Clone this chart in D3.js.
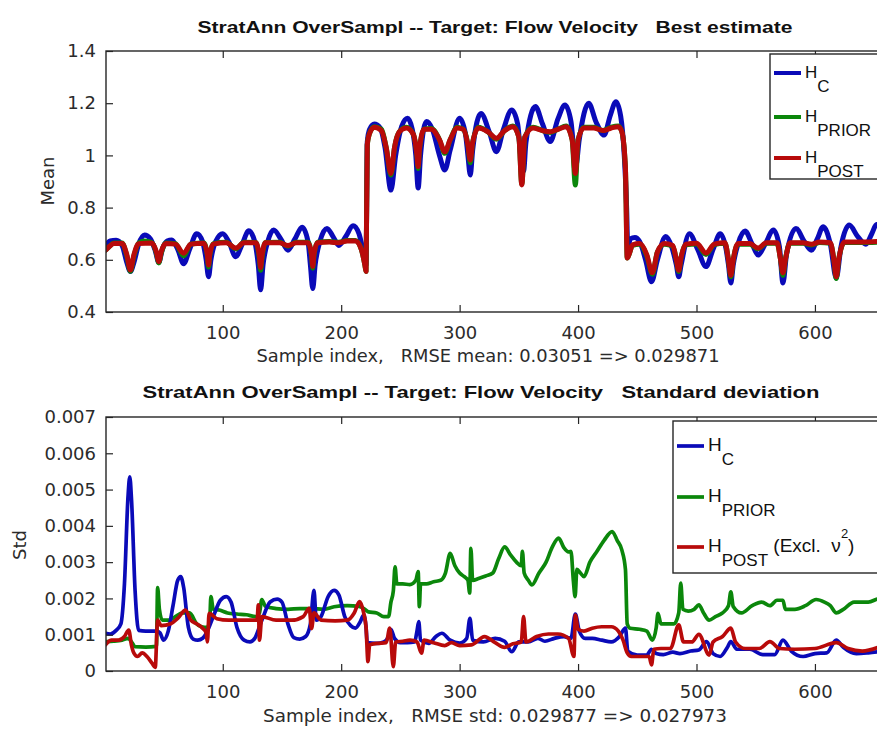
<!DOCTYPE html>
<html>
<head>
<meta charset="utf-8">
<script src="https://cdn.jsdelivr.net/npm/d3@7"></script>
<style>
  html, body { margin: 0; padding: 0; background: #fff; }
  svg { display: block; }
  text { white-space: pre; }
</style>
</head>
<body>
<svg id="chart" width="877" height="729"></svg>
<script>
// ---- tick values ----
const sampleTicks = [100, 200, 300, 400, 500, 600];
const meanTicks = [0.4, 0.6, 0.8, 1, 1.2, 1.4];
const stdTicks = [0, 0.001, 0.002, 0.003, 0.004, 0.005, 0.006, 0.007];

// ---- series names ----
const seriesNames = ["C", "PRIOR", "POST"];
const seriesColors = ["#0a0ab8", "#0b870b", "#b80a0a"];

// ---- mean (best estimate), [sample index, value] ----
const meanHC = [
  [1,0.655],[5,0.672],[10,0.675],[15,0.655],[19,0.59],[22,0.555],[25,0.59],[29,0.66],[34,0.695],[39,0.68],
  [43,0.635],[46,0.59],[49,0.64],[53,0.672],[57,0.676],[62,0.64],[67,0.585],[72,0.64],[78,0.70],[83,0.67],
  [86,0.60],[88,0.535],[90,0.60],[94,0.67],[100,0.70],[105,0.67],[111,0.612],[116,0.655],[122,0.711],[127,0.67],
  [130,0.58],[132,0.485],[134,0.58],[138,0.67],[143,0.714],[149,0.68],[155,0.637],[161,0.68],[167,0.725],[172,0.67],
  [174,0.58],[176,0.49],[178,0.58],[182,0.67],[188,0.72],[193,0.69],[198,0.655],[204,0.69],[210,0.73],[215,0.70],
  [219,0.62],[221,0.58],[222,1.05],[224,1.10],[228,1.12],[233,1.105],[237,1.03],[242,0.867],[246,1.0],[251,1.11],
  [256,1.142],[260,1.10],[263,1.0],[265,0.875],[267,1.0],[272,1.13],[277,1.10],[283,1.00],[287.5,0.944],[292,1.02],
  [300,1.142],[305,1.08],[307,1.0],[309,0.925],[311,1.02],[318,1.161],[325,1.09],[331,1.014],[337,1.10],[344,1.174],
  [349,1.12],[352,0.98],[354,0.94],[356,1.05],[364,1.187],[370,1.12],[376.5,1.053],[383,1.14],[389,1.193],[394,1.13],
  [397,0.99],[398,0.957],[401,1.06],[409,1.20],[415,1.13],[422,1.078],[427,1.15],[432,1.206],[436,1.15],[439,1.00],
  [441,0.80],[442,0.64],[444,0.68],[448,0.685],[452,0.67],[457,0.60],[462,0.516],[467,0.60],[474,0.689],[479,0.65],
  [483,0.58],[485,0.535],[487,0.58],[494,0.70],[501,0.64],[508,0.574],[514,0.64],[520,0.70],[525,0.64],[527,0.58],
  [529,0.511],[531,0.58],[535,0.66],[541,0.71],[547,0.66],[552,0.618],[558,0.66],[565,0.714],[570,0.65],[573,0.511],
  [576,0.62],[584,0.72],[591,0.67],[597,0.637],[602,0.68],[607,0.727],[613,0.66],[618,0.53],[622,0.65],[629,0.733],
  [636,0.69],[643,0.66],[648,0.70],[652,0.735],[658,0.70]
];

const meanHPrior = [
  [1,0.637],[4,0.65],[8,0.664],[15,0.664],[19,0.615],[22,0.556],[25,0.615],[29,0.664],[34,0.672],[40,0.666],
  [44,0.625],[46,0.588],[48,0.625],[52,0.664],[60,0.662],[67,0.615],[73,0.66],[84,0.664],[87,0.615],[88,0.572],
  [89,0.615],[92,0.662],[103,0.667],[111,0.642],[118,0.667],[128,0.666],[131,0.60],[132,0.56],[133,0.60],[136,0.666],
  [148,0.667],[155,0.652],[162,0.667],[172,0.667],[175,0.615],[176,0.568],[177,0.615],[180,0.667],[190,0.670],[198,0.667],
  [205,0.674],[212,0.674],[217,0.64],[220,0.58],[221,0.555],[222,1.04],[224,1.085],[228,1.11],[234,1.10],[238,1.03],
  [242,0.925],[245,1.03],[249,1.09],[255,1.108],[261,1.08],[264,1.0],[265,0.95],[266,1.02],[270,1.10],[276,1.103],
  [283,1.06],[287.5,1.008],[292,1.06],[298,1.108],[303,1.10],[307,1.04],[309,0.972],[311,1.05],[316,1.108],[324,1.09],
  [331,1.062],[338,1.095],[345,1.113],[350,1.07],[352.5,0.89],[355,1.07],[362,1.108],[370,1.095],[376.5,1.088],[383,1.10],
  [390,1.113],[395,1.06],[397.7,0.887],[400,1.06],[405,1.108],[413,1.108],[421,1.095],[428,1.108],[434,1.113],[437,1.09],
  [440,0.95],[441.5,0.607],[443,0.62],[446,0.655],[452,0.66],[458,0.615],[462.7,0.545],[467,0.63],[473,0.66],[480,0.652],
  [483,0.60],[485,0.555],[487,0.61],[491,0.658],[500,0.661],[508,0.62],[515,0.658],[524,0.663],[527,0.60],[529,0.535],
  [531,0.60],[535,0.66],[545,0.66],[552,0.642],[559,0.663],[568,0.663],[571,0.60],[573,0.54],[575,0.60],[579,0.663],
  [590,0.663],[597,0.657],[604,0.666],[613,0.663],[616,0.60],[618,0.528],[620,0.60],[625,0.666],[635,0.666],[645,0.666],
  [658,0.670]
];

const meanHPost = [
  [1,0.637],[4,0.65],[8,0.662],[15,0.662],[19,0.62],[22,0.561],[25,0.62],[29,0.662],[40,0.664],[44,0.63],
  [46,0.593],[48,0.63],[52,0.662],[60,0.66],[67,0.625],[73,0.66],[84,0.663],[87,0.62],[88,0.58],[89,0.62],
  [92,0.66],[103,0.665],[111,0.645],[118,0.665],[128,0.665],[131,0.61],[132,0.57],[133,0.61],[136,0.665],[148,0.665],
  [155,0.655],[162,0.665],[172,0.665],[175,0.62],[176,0.575],[177,0.62],[180,0.665],[190,0.668],[198,0.665],[205,0.672],
  [212,0.672],[217,0.64],[220,0.58],[221,0.555],[222,1.04],[224,1.085],[228,1.108],[234,1.095],[238,1.03],[242,0.931],
  [245,1.03],[249,1.09],[255,1.105],[261,1.08],[264,1.0],[265,0.957],[266,1.02],[270,1.10],[276,1.10],[283,1.06],
  [287.5,1.014],[292,1.06],[298,1.105],[303,1.10],[307,1.04],[309,0.982],[311,1.05],[316,1.105],[324,1.09],[331,1.066],
  [338,1.095],[345,1.11],[350,1.07],[352.5,0.887],[355,1.07],[362,1.105],[370,1.095],[376.5,1.091],[383,1.10],[390,1.11],
  [395,1.06],[397.7,0.931],[400,1.06],[405,1.105],[413,1.105],[421,1.095],[428,1.105],[434,1.11],[437,1.09],[440,0.95],
  [441.5,0.607],[443,0.62],[446,0.657],[452,0.662],[458,0.62],[462.7,0.55],[467,0.63],[473,0.662],[480,0.655],[483,0.60],
  [485,0.56],[487,0.61],[491,0.66],[500,0.663],[508,0.626],[515,0.66],[524,0.665],[527,0.60],[529,0.54],[531,0.60],
  [535,0.662],[545,0.662],[552,0.645],[559,0.665],[568,0.665],[571,0.60],[573,0.55],[575,0.60],[579,0.665],[590,0.665],
  [597,0.66],[604,0.668],[613,0.665],[616,0.60],[618,0.535],[620,0.60],[625,0.668],[635,0.668],[645,0.668],[658,0.672]
];

// ---- standard deviation, [sample index, value] ----
const stdHC = [
  [1,0.00104],[5,0.00102],[10,0.00112],[14,0.0013],[17,0.0024],[20,0.0048],[21.5,0.00535],[23,0.0047],[26,0.0022],[29,0.00112],
  [35,0.0011],[44,0.0011],[47,0.00105],[50,0.00085],[54,0.0011],[58,0.0018],[62,0.0025],[64.5,0.0026],[67,0.0023],[71,0.0012],
  [75,0.00088],[79,0.00085],[83,0.0009],[87,0.0011],[92,0.0015],[98,0.00195],[103,0.00205],[107,0.0019],[112,0.0012],[118,0.00085],
  [123,0.0008],[127,0.0009],[133,0.0014],[140,0.0019],[146,0.00198],[150,0.0019],[155,0.0013],[160,0.00092],[165,0.00088],[170,0.00095],
  [174,0.0013],[177,0.00222],[179,0.0014],[183,0.0015],[189,0.00205],[194,0.00222],[198,0.0021],[203,0.0015],[208,0.00125],[212,0.00118],
  [216,0.00135],[219,0.00154],[221,0.0012],[222,0.00078],[230,0.00076],[236,0.0008],[240,0.00095],[242,0.00115],[245,0.0009],[250,0.00078],
  [256,0.00078],[262,0.0008],[264,0.0011],[265.5,0.00136],[267,0.00085],[274,0.00076],[280,0.00095],[285,0.00104],[292,0.00085],[300,0.00077],
  [306,0.0009],[308.7,0.00145],[311,0.00085],[320,0.0008],[330,0.0009],[338,0.00082],[344,0.00053],[350,0.0008],[358,0.0008],[366,0.0009],
  [372,0.00082],[380,0.0009],[388,0.00095],[394,0.0009],[397.7,0.00157],[401,0.0011],[406,0.0009],[412,0.0009],[420,0.00085],[428,0.0008],
  [435,0.00095],[440,0.00118],[442,0.00055],[450,0.00044],[458,0.00044],[462,0.0006],[466,0.00048],[472,0.00045],[480,0.00052],[486,0.00048],
  [495,0.00055],[502,0.00058],[508.5,0.00081],[514,0.00048],[520,0.0004],[526,0.00065],[529,0.00081],[534,0.0006],[545,0.0006],[556,0.00045],
  [566,0.00045],[573,0.00085],[580,0.00055],[590,0.0004],[600,0.00048],[610,0.0005],[618,0.00085],[624,0.00065],[635,0.00048],[645,0.0005],
  [658,0.00055]
];

const stdHPrior = [
  [1,0.00081],[8,0.00082],[15,0.00085],[20,0.0009],[23,0.0008],[26,0.00067],[35,0.00066],[44,0.00068],[45,0.0023],[46.5,0.0017],
  [49,0.0014],[55,0.0014],[60,0.0015],[66,0.0016],[72,0.0016],[78,0.0013],[82,0.00122],[87,0.0012],[89,0.0014],[90,0.00205],
  [92,0.0017],[97,0.00168],[104,0.0016],[112,0.00157],[120,0.00155],[128,0.0015],[131,0.0016],[133,0.00197],[136,0.00178],[145,0.00172],
  [155,0.0017],[165,0.00172],[175,0.00172],[185,0.0017],[194,0.00177],[205,0.0018],[215,0.00178],[220,0.0017],[223,0.00163],[230,0.0016],
  [236,0.0015],[240,0.0015],[242,0.0019],[244,0.0022],[245.5,0.00287],[247,0.0024],[252,0.0024],[258,0.00238],[263,0.0025],[265,0.00274],
  [266,0.00177],[267,0.0024],[272,0.0024],[278,0.00246],[284,0.0025],[288,0.0027],[292,0.00324],[296,0.0029],[300,0.0027],[304,0.0026],
  [307,0.0025],[308.5,0.00215],[309.5,0.00338],[311,0.0025],[316,0.00255],[322,0.00262],[328,0.0027],[333,0.0031],[338,0.00342],[343,0.0032],
  [348,0.003],[352,0.0029],[353,0.0033],[354.5,0.0027],[358,0.0025],[361,0.00237],[367,0.0027],[373,0.003],[378,0.0034],[383.6,0.00366],
  [388,0.0034],[392,0.00328],[394,0.0033],[396,0.0025],[397.5,0.00205],[399,0.0028],[402,0.0027],[405,0.0026],[410,0.003],[416,0.0033],
  [422,0.0036],[428.8,0.00384],[433,0.0036],[437,0.00333],[440,0.0028],[441.5,0.0013],[444,0.00118],[452,0.00115],[458,0.0011],[462.7,0.00085],
  [466,0.0012],[467.5,0.00159],[470,0.0013],[476,0.0013],[481,0.0013],[485,0.0016],[486.7,0.00242],[488.5,0.0017],[493,0.00165],[498,0.0017],
  [502,0.00182],[506,0.0016],[510.7,0.0014],[516,0.0015],[522,0.0016],[527,0.0018],[529,0.00218],[531,0.00178],[538,0.0016],[547,0.0018],
  [555,0.0019],[562,0.0018],[568,0.00195],[573,0.00195],[575,0.0017],[583,0.0017],[592,0.0018],[601,0.00197],[608,0.0019],[613,0.0018],
  [618,0.0016],[624,0.0017],[633,0.0019],[645,0.0019],[655,0.002],[660,0.002]
];

const stdHPost = [
  [1,0.00072],[6,0.00085],[12,0.00085],[17,0.00095],[20.6,0.00113],[23,0.0007],[25,0.00049],[28,0.0004],[32,0.0005],[36,0.0004],
  [40.4,0.00021],[43,0.0001],[45,0.0014],[48,0.00125],[56,0.0013],[62,0.00145],[68.6,0.00168],[73,0.0014],[78,0.0013],[83,0.00118],
  [86,0.00105],[87,0.0008],[88.5,0.00159],[95,0.00144],[105,0.0014],[115,0.0014],[125,0.0014],[129,0.0014],[130,0.00182],[131,0.00085],
  [133,0.0015],[145,0.0014],[158,0.0014],[168,0.0015],[173,0.00173],[175,0.00117],[177,0.0016],[183,0.0014],[195,0.00138],[205,0.0014],
  [211,0.0016],[215.5,0.00191],[219,0.0016],[221,0.0012],[222.6,0.00026],[224,0.00072],[230,0.00076],[238,0.00078],[241,0.00118],[244,0.00012],
  [246,0.0008],[252,0.00082],[258,0.00085],[264,0.0008],[267.8,0.00049],[270,0.00085],[278,0.00078],[287.5,0.0007],[293,0.00078],[300,0.0007],
  [310,0.00072],[321,0.00095],[330,0.00078],[338,0.00065],[345,0.00075],[352,0.0008],[354,0.0015],[356,0.0008],[365,0.00095],[375,0.00102],
  [383,0.00102],[392,0.0009],[396.5,0.0004],[397.7,0.00154],[400,0.00115],[405,0.0011],[412,0.00118],[420,0.00122],[428,0.00122],[434,0.0011],
  [438,0.00085],[441.5,0.0005],[445,0.0004],[455,0.0004],[460,0.0004],[462,0.00017],[464,0.0006],[470,0.00062],[478,0.00062],[485,0.00127],
  [489,0.0008],[496,0.0008],[502,0.00101],[510.7,0.00044],[514,0.0008],[522,0.00095],[529,0.00118],[533,0.0008],[541,0.00062],[553,0.00062],
  [562,0.00081],[570,0.00062],[583,0.0006],[600,0.00062],[618,0.00078],[628,0.00062],[640,0.00055],[655,0.00067]
];

// ---- layout ----
const svg = d3.select("#chart");
svg.append("rect").attr("width", 877).attr("height", 729).attr("fill", "#fff");

const axisColor = "#262626";
const textColor = "#2b2b2b";
const tickFont = "DejaVu Sans, sans-serif";
const legendFont = "Liberation Sans, Arial, sans-serif";

const x = d3.scaleLinear().domain([1, 660]).range([105.5, 886]);

function panel(opts) {
  const { top, bottom, yDomain, yTicks, yFmt, series, lineWidth, title, titleX, titleLen, titleY,
          xlabel, xlabelX, xlabelLen, xlabelY, ylabel, ylabelX, ylabelY, clipId } = opts;
  const left = 106, right = 900;
  const y = d3.scaleLinear().domain(yDomain).range([bottom, top]);
  const g = svg.append("g");

  g.append("clipPath").attr("id", clipId)
    .append("rect").attr("x", left).attr("y", top).attr("width", right - left).attr("height", bottom - top);

  // data lines
  const line = d3.line().x(d => x(d[0])).y(d => y(d[1])).curve(d3.curveMonotoneX);
  g.append("g").attr("clip-path", `url(#${clipId})`)
    .selectAll("path").data(series).join("path")
    .attr("d", d => line(d.values))
    .attr("fill", "none")
    .attr("stroke", d => d.color)
    .attr("stroke-width", lineWidth)
    .attr("stroke-linejoin", "round")
    .attr("stroke-linecap", "round");

  // axes (ticks point inward)
  const xAxis = d3.axisBottom(x).tickValues(sampleTicks).tickFormat(d3.format("d"))
    .tickSize(-7).tickSizeOuter(0).tickPadding(14);
  const gx = g.append("g").attr("transform", `translate(0,${bottom})`).call(xAxis);
  const gxTop = g.append("g").attr("transform", `translate(0,${top})`)
    .call(d3.axisTop(x).tickValues(sampleTicks).tickFormat("").tickSize(-7).tickSizeOuter(0));
  const yAxis = d3.axisLeft(y).tickValues(yTicks).tickFormat(yFmt)
    .tickSize(-7).tickSizeOuter(0).tickPadding(10);
  const gy = g.append("g").attr("transform", `translate(${left},0)`).call(yAxis);

  [gx, gxTop, gy].forEach(a => {
    a.select(".domain").remove();
    a.selectAll(".tick line").attr("stroke", axisColor).attr("stroke-width", 1.2);
    a.selectAll(".tick text").attr("fill", textColor)
      .style("font-family", tickFont).style("font-size", "18px");
  });

  // axes box
  g.append("rect").attr("x", left).attr("y", top).attr("width", right - left).attr("height", bottom - top)
    .attr("fill", "none").attr("stroke", axisColor).attr("stroke-width", 1.4);

  // title and labels
  g.append("text").attr("x", titleX).attr("y", titleY).attr("text-anchor", "middle")
    .attr("textLength", titleLen).attr("lengthAdjust", "spacingAndGlyphs")
    .style("font-family", legendFont).style("font-weight", "bold").style("font-size", "17px")
    .attr("fill", "#111").text(title);
  g.append("text").attr("x", xlabelX).attr("y", xlabelY).attr("text-anchor", "middle")
    .attr("textLength", xlabelLen).attr("lengthAdjust", "spacingAndGlyphs")
    .style("font-family", tickFont).style("font-size", "17px")
    .attr("fill", textColor).text(xlabel);
  g.append("text").attr("transform", `translate(${ylabelX},${ylabelY}) rotate(-90)`)
    .attr("text-anchor", "middle")
    .style("font-family", tickFont).style("font-size", "18px")
    .attr("fill", textColor).text(ylabel);
  return g;
}

function legend(g, o) {
  const { boxX, boxY, boxH, rows, hSize, lineWidth, extra } = o;
  g.append("rect").attr("x", boxX).attr("y", boxY).attr("width", 300).attr("height", boxH)
    .attr("fill", "#fff").attr("stroke", axisColor).attr("stroke-width", 1.4);
  rows.forEach((r, i) => {
    g.append("line").attr("x1", boxX + 4).attr("x2", boxX + 31)
      .attr("y1", r.y).attr("y2", r.y)
      .attr("stroke", seriesColors[i]).attr("stroke-width", lineWidth);
    const t = g.append("text").attr("x", boxX + 35).attr("y", r.y + 5)
      .style("font-family", legendFont).attr("fill", "#111");
    t.append("tspan").style("font-size", hSize + "px").text("H");
    t.append("tspan").attr("dy", 14).style("font-size", "17px").text(seriesNames[i]);
    if (i === 2 && extra) {
      t.append("tspan").attr("dy", -14).style("font-size", hSize + "px").text(" (Excl.  \u03bd");
      t.append("tspan").attr("dy", -14).style("font-size", "13px").text("2");
      t.append("tspan").attr("dy", 14).style("font-size", hSize + "px").text(")");
    }
  });
}

// ---- upper panel: best estimate ----
const gTop = panel({
  top: 51, bottom: 312, yDomain: [0.4, 1.4], yTicks: meanTicks, yFmt: d => String(d),
  series: [
    { color: seriesColors[0], values: meanHC },
    { color: seriesColors[1], values: meanHPrior },
    { color: seriesColors[2], values: meanHPost }
  ],
  lineWidth: 5,
  title: "StratAnn OverSampl -- Target: Flow Velocity   Best estimate",
  titleX: 495, titleLen: 595, titleY: 33,
  xlabel: "Sample index,   RMSE mean: 0.03051 => 0.029871",
  xlabelX: 488, xlabelLen: 463, xlabelY: 362,
  ylabel: "Mean", ylabelX: 54, ylabelY: 181, clipId: "clipTop"
});
legend(gTop, { boxX: 770, boxY: 54, boxH: 125, hSize: 17, lineWidth: 4,
  rows: [{ y: 73 }, { y: 117 }, { y: 158 }] });

// ---- lower panel: standard deviation ----
const gBot = panel({
  top: 417, bottom: 671, yDomain: [0, 0.007], yTicks: stdTicks, yFmt: d => String(d),
  series: [
    { color: seriesColors[1], values: stdHPrior },
    { color: seriesColors[0], values: stdHC },
    { color: seriesColors[2], values: stdHPost }
  ],
  lineWidth: 3.7,
  title: "StratAnn OverSampl -- Target: Flow Velocity   Standard deviation",
  titleX: 481, titleLen: 677, titleY: 398,
  xlabel: "Sample index,   RMSE std: 0.029877 => 0.027973",
  xlabelX: 495, xlabelLen: 464, xlabelY: 722,
  ylabel: "Std", ylabelX: 26, ylabelY: 545, clipId: "clipBot"
});
legend(gBot, { boxX: 673, boxY: 421, boxH: 152, hSize: 19, lineWidth: 3.7, extra: true,
  rows: [{ y: 446 }, { y: 497 }, { y: 547 }] });
</script>
</body>
</html>
